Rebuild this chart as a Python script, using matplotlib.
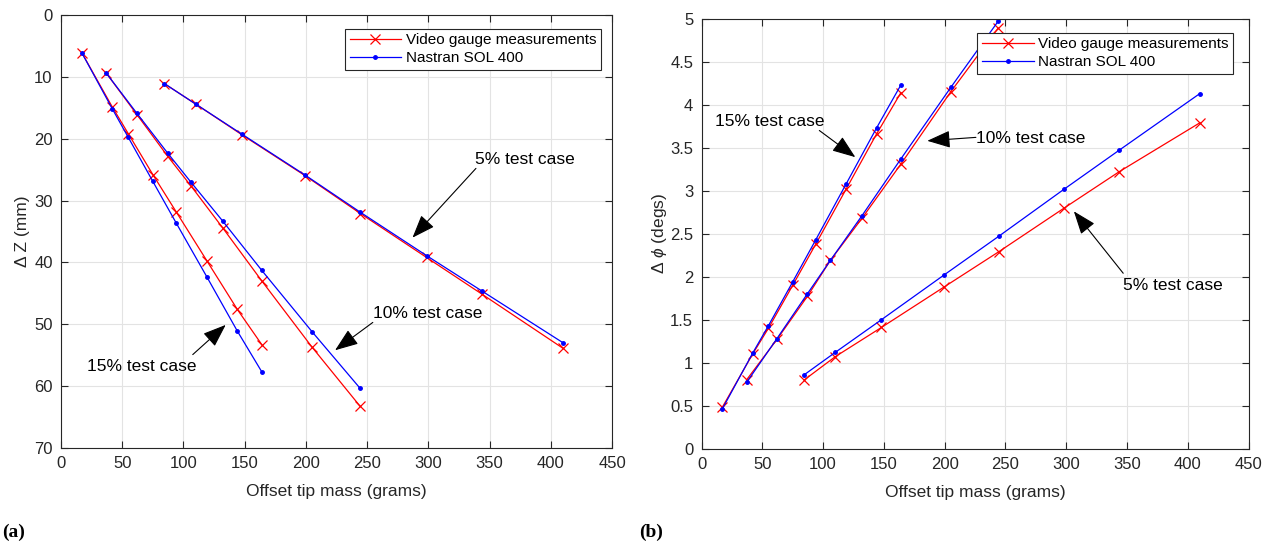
import matplotlib.pyplot as plt
from matplotlib.ticker import FormatStrFormatter

plt.rcParams['font.family'] = ['Liberation Sans', 'DejaVu Sans']
plt.rcParams['mathtext.fontset'] = 'custom'
plt.rcParams['mathtext.rm'] = 'Liberation Sans'
plt.rcParams['mathtext.it'] = 'Liberation Sans:italic'

# Offset tip mass (grams) for each test case
x15 = [17, 42, 55, 75, 94, 119, 144, 164]
x10 = [37, 62, 87, 106, 132, 164, 205, 244]
x5 = [84.5, 110, 148, 199.5, 244.5, 298.5, 343.5, 410]

# (a) Delta Z (mm)
z15_meas = [6.1, 14.9, 19.2, 25.8, 31.8, 39.7, 47.6, 53.3]
z15_nas = [6.1, 15.2, 19.8, 26.9, 33.6, 42.3, 51.1, 57.7]
z10_meas = [9.4, 16.1, 22.8, 27.6, 34.4, 43.0, 53.7, 63.2]
z10_nas = [9.4, 15.9, 22.3, 27.0, 33.3, 41.3, 51.2, 60.3]
z5_meas = [11.1, 14.4, 19.4, 26.0, 32.1, 39.2, 45.1, 53.9]
z5_nas = [11.1, 14.4, 19.3, 25.9, 31.9, 38.9, 44.6, 53.0]

# (b) Delta phi (degs)
p15_meas = [0.48, 1.10, 1.40, 1.90, 2.38, 3.02, 3.66, 4.14]
p15_nas = [0.46, 1.11, 1.43, 1.94, 2.43, 3.08, 3.73, 4.23]
p10_meas = [0.80, 1.27, 1.77, 2.19, 2.68, 3.31, 4.15, 4.89]
p10_nas = [0.77, 1.28, 1.80, 2.19, 2.71, 3.37, 4.20, 4.97]
p5_meas = [0.80, 1.07, 1.41, 1.88, 2.29, 2.80, 3.22, 3.79]
p5_nas = [0.86, 1.12, 1.50, 2.02, 2.47, 3.02, 3.47, 4.13]

# annotations: label, text pos, arrow tail, arrow head
notes_a = [
    ("5% test case", (338, 23.3), (338.8, 24.8), (287, 36.0)),
    ("10% test case", (255, 48.2), (254.6, 49.7), (223.8, 54.2)),
    ("15% test case", (21, 56.8), (107.6, 54.9), (134.5, 50.1)),
]
notes_b = [
    ("15% test case", (11.1, 3.81), (96.9, 3.70), (126.5, 3.39)),
    ("10% test case", (225.7, 3.61), (225.7, 3.62), (185.7, 3.58)),
    ("5% test case", (346.9, 1.90), (346.9, 2.04), (306.3, 2.76)),
]

fig = plt.figure(figsize=(12.7, 5.45), dpi=100)
ax1 = fig.add_axes([0.048, 0.178, 0.434, 0.7945])
ax2 = fig.add_axes([0.5524, 0.1767, 0.4307, 0.789])


def draw(ax, cases, notes, anchor):
    for x, meas, nas in cases:
        l1, = ax.plot(x, meas, color='red', marker='x', ms=7, mew=0.9, lw=0.9)
        l2, = ax.plot(x, nas, color='blue', marker='.', ms=5, lw=0.9)
    ax.set_xlim(0, 450)
    ax.set_xticks(range(0, 451, 50))
    ax.grid(True, color='#e3e3e3', lw=0.8)
    ax.set_axisbelow(True)
    ax.tick_params(direction='in', length=5, top=True, right=True, pad=6,
                   labelsize=12, colors='#262626')
    for s in ax.spines.values():
        s.set_color('#262626')
        s.set_linewidth(0.8)
    ax.set_xlabel("Offset tip mass (grams)", fontsize=12.5, color='#262626',
                  labelpad=9)
    for txt, tpos, tail, head in notes:
        ax.annotate('', xy=head, xytext=tail,
                    arrowprops=dict(arrowstyle='-|>,head_length=1.2,head_width=0.45',
                                    mutation_scale=12, color='black', lw=0.8,
                                    shrinkA=0, shrinkB=0))
        ax.text(tpos[0], tpos[1], txt, fontsize=12.5, ha='left', va='center')
    leg = ax.legend([l1, l2], ["Video gauge measurements", "Nastran SOL 400"],
                    loc='upper right', bbox_to_anchor=anchor, fontsize=11,
                    fancybox=False, framealpha=1, edgecolor='#262626',
                    handlelength=3.4, handletextpad=0.3, borderpad=0.3,
                    labelspacing=0.25, borderaxespad=0)
    leg.get_frame().set_linewidth(0.8)


draw(ax1, [(x15, z15_meas, z15_nas), (x10, z10_meas, z10_nas), (x5, z5_meas, z5_nas)],
     notes_a, (0.98, 0.968))
ax1.set_ylim(70, 0)
ax1.set_yticks(range(0, 71, 10))
ax1.set_ylabel("Δ Z (mm)", fontsize=12.5, color='#262626', labelpad=3)

draw(ax2, [(x15, p15_meas, p15_nas), (x10, p10_meas, p10_nas), (x5, p5_meas, p5_nas)],
     notes_b, (0.972, 0.967))
ax2.set_ylim(0, 5)
ax2.set_yticks([i * 0.5 for i in range(11)])
ax2.yaxis.set_major_formatter(FormatStrFormatter('%g'))
ax2.set_ylabel(r"$\Delta\ \it{\phi}$ (degs)", fontsize=12.5, color='#262626',
               labelpad=1)

fig.text(0.002, 0.014, "(a)", fontsize=14, fontweight='bold', family='Liberation Serif')
fig.text(0.503, 0.014, "(b)", fontsize=14, fontweight='bold', family='Liberation Serif')

fig.savefig("out.png", dpi=100)
